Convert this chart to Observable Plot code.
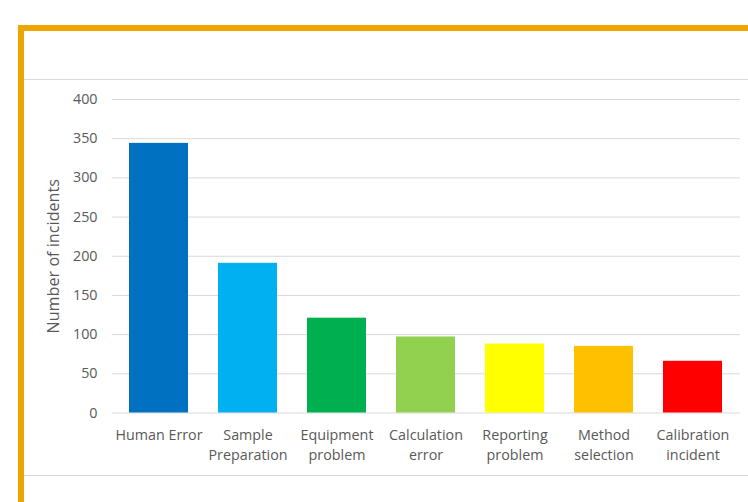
<!DOCTYPE html>
<html>
<head>
<meta charset="utf-8">
<script src="https://cdn.jsdelivr.net/npm/d3@7"></script>
<script src="https://cdn.jsdelivr.net/npm/@observablehq/plot@0.6"></script>
<style>
  html, body { margin: 0; padding: 0; background: #fff; }
  #wrap { position: relative; width: 748px; height: 502px; overflow: hidden; font-family: "Open Sans", sans-serif; }
  .frame-top { position: absolute; left: 18px; top: 25px; width: 730px; height: 6px; background: #EFA500; }
  .frame-left { position: absolute; left: 18px; top: 25px; width: 6px; height: 477px; background: #EFA500; }
  .rule { position: absolute; left: 24px; width: 724px; height: 1px; background: #D9D9D9; }
  #chart { position: absolute; left: 0; top: 0; }
</style>
</head>
<body>
<div id="wrap">
  <div class="frame-top"></div>
  <div class="frame-left"></div>
  <div class="rule" style="top:79px"></div>
  <div class="rule" style="top:475px"></div>
  <div id="chart"></div>
</div>
<script>
// Incident causes, sorted by frequency
const categories = ["Human Error", "Sample Preparation", "Equipment problem", "Calculation error", "Reporting problem", "Method selection", "Calibration incident"];
const tickLabels = ["Human Error", "Sample\nPreparation", "Equipment\nproblem", "Calculation\nerror", "Reporting\nproblem", "Method\nselection", "Calibration\nincident"];
const incidents = [344, 191, 121, 97, 88, 85, 66];
const barColors = ["#0070C0", "#00B0F0", "#00B050", "#92D050", "#FFFF00", "#FFC000", "#FF0000"];
const yTicks = [0, 50, 100, 150, 200, 250, 300, 350, 400];

const rows = categories.map((c, i) => ({cause: c, count: incidents[i]}));
const labelOf = new Map(categories.map((c, i) => [c, tickLabels[i]]));

const FS = 14.3;
const TXT = "#595959";

const chart = Plot.plot({
  width: 748,
  height: 502,
  marginTop: 99,
  marginBottom: 89.5,
  marginLeft: 112,
  marginRight: 8,
  style: {fontFamily: "'Open Sans', sans-serif", fontSize: FS + "px", color: TXT, background: "transparent"},
  x: {domain: categories, paddingInner: 1 / 3, paddingOuter: 1 / 6, label: null},
  y: {domain: [0, 400], label: null},
  color: {domain: categories, range: barColors},
  marks: [
    Plot.gridY(yTicks, {stroke: "#D9D9D9", strokeOpacity: 1}),
    Plot.barY(rows, {x: "cause", y: "count", fill: "cause"}),
    Plot.axisY(yTicks, {tickSize: 0, tickPadding: 15, label: null, fill: TXT, fontSize: FS}),
    Plot.axisX({tickSize: 0, tickPadding: 13, label: null, fill: TXT, fontSize: FS, lineHeight: 1.4, tickFormat: d => labelOf.get(d)}),
    Plot.text(["Number of incidents"], {frameAnchor: "left", textAnchor: "middle", rotate: -90, dx: -59, text: d => d, fill: TXT, fontSize: 16.2})
  ]
});
document.getElementById("chart").appendChild(chart);
</script>
</body>
</html>
